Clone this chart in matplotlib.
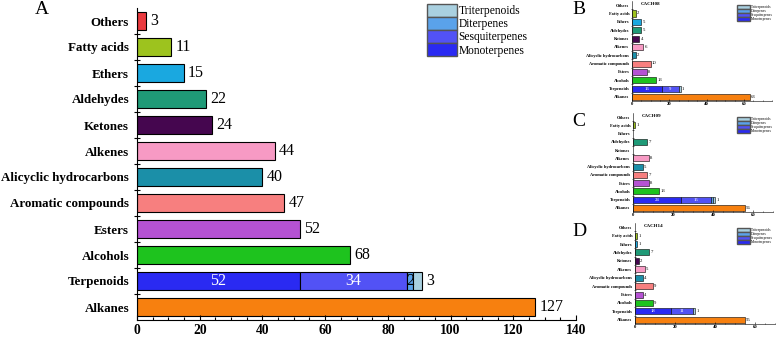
import numpy as np
import matplotlib
matplotlib.use('Agg')
import matplotlib.pyplot as plt
from matplotlib.patches import Patch
from matplotlib.ticker import MultipleLocator

plt.rcParams['font.family'] = ['Liberation Serif', 'DejaVu Serif']

# categories, bottom to top
categories = ['Alkanes', 'Terpenoids', 'Alcohols', 'Esters', 'Aromatic compounds',
              'Alicyclic hydrocarbons', 'Alkenes', 'Ketones', 'Aldehydes', 'Ethers',
              'Fatty acids', 'Others']
colors = ['#f7800f', None, '#1ec31e', '#b552d3', '#f77f7f', '#1b8fa8',
          '#f79ac4', '#45064f', '#1f9a77', '#1aa8e0', '#9dc31e', '#ea3a3f']

terp_names = ['Monoterpenes', 'Sesquiterpenes', 'Diterpenes', 'Triterpenoids']
terp_colors = ['#2a2af2', '#5252f5', '#5aa2ea', '#a9d0e0']

# panel A (all samples)
counts_a = [127, 0, 68, 52, 47, 40, 44, 24, 22, 15, 11, 3]
terp_a = [52, 34, 2, 3]
# panel B (CACH08)
counts_b = [63, 0, 13, 8, 10, 2, 6, 4, 5, 5, 2, 0]
terp_b = [16, 9, 0, 1]
# panel C (CACH09)
counts_c = [56, 0, 13, 8, 7, 5, 8, 0, 7, 0, 1, 0]
terp_c = [24, 15, 1, 1]
# panel D (CACH14)
counts_d = [55, 0, 9, 4, 9, 4, 5, 2, 7, 1, 1, 0]
terp_d = [18, 11, 0, 1]


def draw_panel(ax, counts, terp, xmax, fs_cat, fs_val, fs_tick, lw, small=False):
    y = np.arange(len(categories))
    h = 0.72
    for i, c in enumerate(counts):
        if categories[i] == 'Terpenoids':
            continue
        if c > 0:
            ax.barh(y[i], c, height=h, color=colors[i], edgecolor='black', linewidth=lw)
            ax.annotate(str(c), (c, y[i]), xytext=(fs_val * 0.25, 0), textcoords='offset points',
                        va='center', ha='left', fontsize=fs_val)
    ti = categories.index('Terpenoids')
    left = 0
    for k, v in enumerate(terp):
        if v > 0:
            ax.barh(y[ti], v, left=left, height=h, color=terp_colors[k],
                    edgecolor='black', linewidth=lw)
            if k < 2:
                ax.text(left + v / 2, y[ti], str(v), ha='center', va='center',
                        color='white', fontsize=fs_val)
            elif k == 2 and not small:
                ax.text(left + v / 2, y[ti], str(v), ha='center', va='center',
                        color='black', fontsize=fs_val)
        left += v
    ax.annotate(str(terp[3]), (left, y[ti]), xytext=(fs_val * 0.25, 0), textcoords='offset points',
                va='center', ha='left', fontsize=fs_val)

    ax.set_ylim(-0.5, len(categories) - 0.5)
    ax.set_xlim(0, xmax)
    ax.set_yticks(y)
    ax.set_yticklabels(categories, fontsize=fs_cat, fontweight='bold')
    ax.set_yticks(y[:-1] + 0.5, minor=True)
    ax.tick_params(axis='y', which='major', length=0, pad=fs_cat * 0.6)
    ax.tick_params(axis='y', which='minor', length=fs_cat * 0.4, direction='inout', width=lw)
    ax.xaxis.set_major_locator(MultipleLocator(20))
    ax.xaxis.set_minor_locator(MultipleLocator(5))
    ax.tick_params(axis='x', which='major', direction='in', length=fs_tick * 0.4,
                   width=lw, labelsize=fs_tick, pad=fs_tick * 0.3)
    ax.tick_params(axis='x', which='minor', direction='in', length=fs_tick * 0.2, width=lw)
    for lab in ax.get_xticklabels():
        lab.set_fontweight('bold')
    ax.spines['top'].set_visible(False)
    ax.spines['right'].set_visible(False)
    ax.spines['left'].set_linewidth(lw)
    ax.spines['bottom'].set_linewidth(lw)


fig = plt.figure(figsize=(7.77, 3.40), dpi=100)
W, H = 777, 340


def add_axes(x0, x1, y0, y1):
    return fig.add_axes([x0 / W, 1 - y1 / H, (x1 - x0) / W, (y1 - y0) / H])


def terp_handles():
    return [Patch(facecolor=terp_colors[k], edgecolor='#555555', label=terp_names[k])
            for k in [3, 2, 1, 0]]


ax_a = add_axes(137, 576, 8, 320)
draw_panel(ax_a, counts_a, terp_a, 140, 9.4, 11.5, 9.8, 0.8)
fig.legend(handles=terp_handles(), loc='upper left', bbox_to_anchor=(427 / W, 1 - 4 / H),
           frameon=False, fontsize=8.3, handlelength=2.6, handleheight=1.3,
           handletextpad=0.15, labelspacing=0.0, borderaxespad=0, borderpad=0)
fig.text(42 / W, 1 - 9 / H, 'A', fontsize=14, ha='center', va='center')

small_specs = [
    ('B', 'CACH08', counts_b, terp_b, 75, (632, 772, 1, 101), 9, 5),
    ('C', 'CACH09', counts_c, terp_c, 70, (633, 773, 113, 212), 121, 117),
    ('D', 'CACH14', counts_d, terp_d, 70, (635, 775, 223, 324), 231, 228),
]
for letter, name, cnt, terp, xmax, box, ly, leg_y in small_specs:
    ax = add_axes(*box)
    draw_panel(ax, cnt, terp, xmax, 3.2, 3.4, 3.4, 0.4, small=True)
    ax.text(0.06, 0.99, name, transform=ax.transAxes, fontsize=3.6, fontweight='bold',
            ha='left', va='top')
    fig.legend(handles=terp_handles(), loc='upper left',
               bbox_to_anchor=(737 / W, 1 - leg_y / H), frameon=False, fontsize=2.6,
               handlelength=3.5, handleheight=1.2, handletextpad=0.3, labelspacing=0.0,
               borderaxespad=0, borderpad=0)
    fig.text(579 / W, 1 - ly / H, letter, fontsize=14, ha='center', va='center')

fig.savefig('out.png', dpi=100)
